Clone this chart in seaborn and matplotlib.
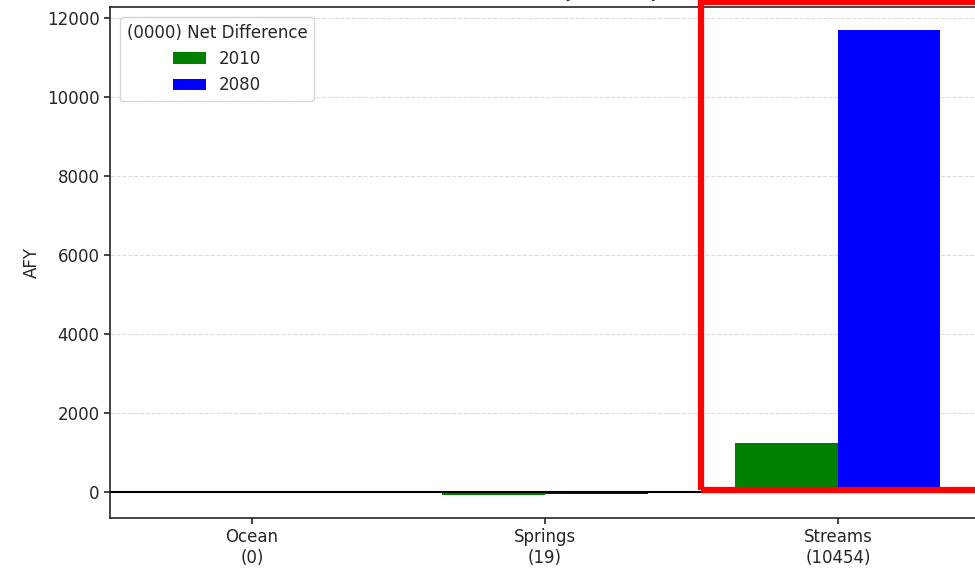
import matplotlib
matplotlib.use("Agg")
import matplotlib.pyplot as plt
import seaborn as sns
import pandas as pd
from matplotlib.patches import Rectangle

categories = ["Ocean", "Springs", "Streams"]
net_diff = [0, 19, 10454]
years = ["2010", "2080"]
values_2010 = [0, -70, 1240]
values_2080 = [0, -51, 11694]

rows = []
for c, v1, v2 in zip(categories, values_2010, values_2080):
    rows.append({"cat": c, "year": years[0], "AFY": v1})
    rows.append({"cat": c, "year": years[1], "AFY": v2})
df = pd.DataFrame(rows)

sns.set_style("ticks")
plt.rcParams["font.family"] = ["DejaVu Sans"]

fig = plt.figure(figsize=(9.75, 5.73), dpi=100)
ax = fig.add_axes([110 / 975, 1 - 518 / 573, (980 - 110) / 975, (518 - 7) / 573])

sns.barplot(data=df, x="cat", y="AFY", hue="year", order=categories, hue_order=years,
            palette={"2010": "green", "2080": "blue"}, width=0.7, linewidth=0,
            saturation=1, errorbar=None, ax=ax, zorder=2)

ax.set_xticks(range(len(categories)))
ax.set_xticklabels([f"{c}\n({d})" for c, d in zip(categories, net_diff)], fontsize=12)
ax.set_xlim(-0.485, 2.485)
ax.set_ylim(-658, 12282)
ax.set_yticks([0, 2000, 4000, 6000, 8000, 10000, 12000])
ax.tick_params(labelsize=12, width=1.2, length=4)
ax.set_xlabel("")
ax.set_ylabel("AFY", fontsize=12, labelpad=4)
ax.yaxis.grid(True, linestyle="--", color="lightgray", linewidth=0.8, alpha=0.8, zorder=0)
ax.set_axisbelow(True)
ax.axhline(0, color="black", linewidth=1.5, zorder=3)
for s in ax.spines.values():
    s.set_linewidth(1.2)
ax.set_title("Net Difference by Boundary", fontsize=12, pad=7)

leg = ax.legend(title="(0000) Net Difference", loc="upper left", fontsize=12,
                title_fontsize=12, borderaxespad=0.6)

fig.patches.append(Rectangle((701 / 975, 1 - 490 / 573), (990 - 701) / 975, (490 - 2) / 573,
                             transform=fig.transFigure, fill=False, edgecolor="red",
                             linewidth=4.5, zorder=10))

fig.savefig("out.png", dpi=100)
